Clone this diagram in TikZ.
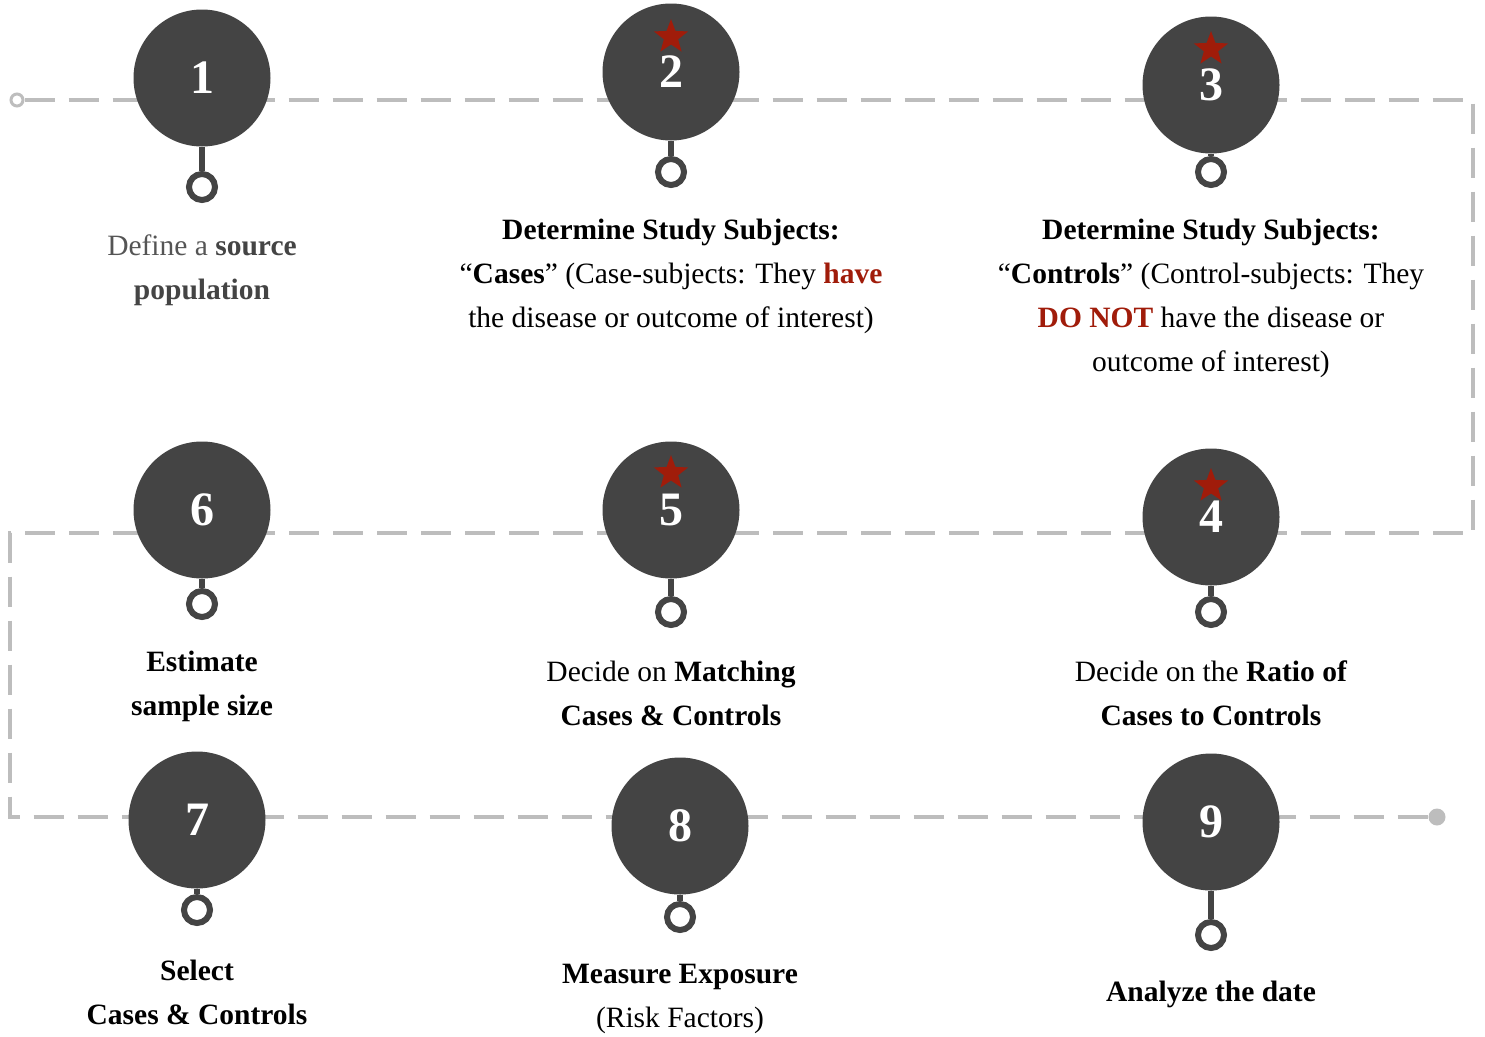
\documentclass[tikz,border=0pt]{standalone}
\usepackage{fontspec}
\setmainfont{Liberation Serif}
\usetikzlibrary{shapes.geometric}
\definecolor{discgray}{HTML}{444444}
\definecolor{trailgray}{HTML}{BDBDBD}
\definecolor{accent}{HTML}{A01C0A}
\definecolor{softtext}{HTML}{555555}
\begin{document}
\begin{tikzpicture}[x=1pt,y=-1pt,
    trail/.style = {trailgray,line width=4pt,dash pattern=on 30pt off 14pt},
    disc/.style = {circle,fill=discgray,minimum size=137pt,inner sep=0pt,
                   text=white,font=\fontsize{48}{48}\selectfont\bfseries},
    ring/.style = {circle,draw=discgray,line width=6pt,fill=white,
                   minimum size=26pt,inner sep=0pt},
    stem/.style = {draw=discgray,line width=6pt},
    mark star/.style = {star,star points=5,star point ratio=2.4,fill=accent,
                   minimum size=36pt,inner sep=0pt},
    caption/.style = {align=center,text=black,font=\fontsize{29.5}{44}\selectfont}]
    \useasboundingbox (0,0) rectangle (1485,1036);

    % dashed trail behind the steps
    \node[circle,draw=trailgray,line width=3pt,fill=white,
          minimum size=12pt,inner sep=0pt] (start) at (17,100) {};
    \node[circle,fill=trailgray,minimum size=17pt,inner sep=0pt]
          (finish) at (1437,817) {};
    \coordinate (k1) at (1473,100);
    \coordinate (k2) at (1473,533);
    \coordinate (k3) at (10,533);
    \coordinate (k4) at (10,817);
    \draw[trail] (start) -- (k1) -- (k2) -- (k3) -- (k4) -- (finish);

    % steps
    \node[disc] (s1) at (202,78)  {1};
    \node[disc] (s2) at (671,72)  {2};
    \node[disc] (s3) at (1211,85) {3};
    \node[disc] (s4) at (1211,517) {4};
    \node[disc] (s5) at (671,510) {5};
    \node[disc] (s6) at (202,510) {6};
    \node[disc] (s7) at (197,820) {7};
    \node[disc] (s8) at (680,826) {8};
    \node[disc] (s9) at (1211,822) {9};

    \node[mark star] (m2) at (671,37)  {};
    \node[mark star] (m3) at (1211,49) {};
    \node[mark star] (m4) at (1211,486) {};
    \node[mark star] (m5) at (671,473) {};

    \node[ring] (r1) at (202,187)  {};
    \node[ring] (r2) at (671,172)  {};
    \node[ring] (r3) at (1211,172) {};
    \node[ring] (r4) at (1211,612) {};
    \node[ring] (r5) at (671,612)  {};
    \node[ring] (r6) at (202,604)  {};
    \node[ring] (r7) at (197,910)  {};
    \node[ring] (r8) at (680,917)  {};
    \node[ring] (r9) at (1211,935) {};

    \foreach \i in {1,...,9}
        \draw[stem] (s\i) -- (r\i);

    % captions
    \node[caption] (t1) at (202,270)
        {\textcolor{softtext}{Define a} \textcolor{discgray}{\textbf{source}}\\
         \textcolor{discgray}{\textbf{population}}};
    \node[caption] (t2) at (671,276)
        {\textbf{Determine Study Subjects:}\\
         “\textbf{Cases}” (Case-subjects: They \textcolor{accent}{\textbf{have}}\\
         the disease or outcome of interest)};
    \node[caption] (t3) at (1211,298)
        {\textbf{Determine Study Subjects:}\\
         “\textbf{Controls}” (Control-subjects: They\\
         \textcolor{accent}{\textbf{DO NOT}} have the disease or\\
         outcome of interest)};
    \node[caption] (t4) at (1211,693)
        {Decide on the \textbf{Ratio of}\\ \textbf{Cases to Controls}};
    \node[caption] (t5) at (671,693)
        {Decide on \textbf{Matching}\\ \textbf{Cases \& Controls}};
    \node[caption] (t6) at (202,686)
        {\textbf{Estimate}\\ \textbf{sample size}};
    \node[caption] (t7) at (197,992)
        {\textbf{Select}\\ \textbf{Cases \& Controls}};
    \node[caption] (t8) at (680,999)
        {\textbf{Measure Exposure}\\ (Risk Factors)};
    \node[caption] (t9) at (1211,994)
        {\textbf{Analyze the date}};
\end{tikzpicture}
\end{document}
